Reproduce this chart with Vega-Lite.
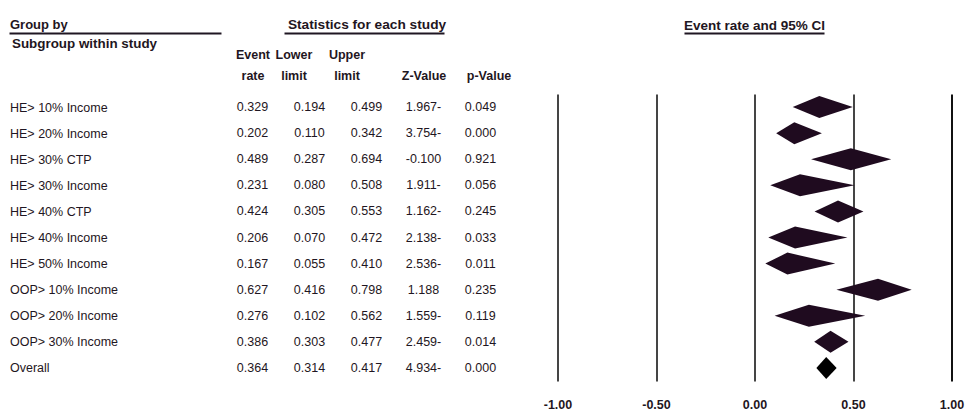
{
  "$schema": "https://vega.github.io/schema/vega-lite/v6.json",
  "padding": {"left": 8, "top": 17, "right": 3, "bottom": 0},
  "background": "white",
  "config": {
    "view": {"stroke": null},
    "font": "Liberation Sans",
    "axis": {"labelColor": "#1f1622", "titleColor": "#1f1622"},
    "title": {"color": "#1f1622"}
  },
  "datasets": {
    "studies": [
      {"study": "HE> 10% Income", "er": "0.329", "ll": "0.194", "ul": "0.499", "z": "1.967-", "p": "0.049"},
      {"study": "HE> 20% Income", "er": "0.202", "ll": "0.110", "ul": "0.342", "z": "3.754-", "p": "0.000"},
      {"study": "HE> 30% CTP", "er": "0.489", "ll": "0.287", "ul": "0.694", "z": "-0.100", "p": "0.921"},
      {"study": "HE> 30% Income", "er": "0.231", "ll": "0.080", "ul": "0.508", "z": "1.911-", "p": "0.056"},
      {"study": "HE> 40% CTP", "er": "0.424", "ll": "0.305", "ul": "0.553", "z": "1.162-", "p": "0.245"},
      {"study": "HE> 40% Income", "er": "0.206", "ll": "0.070", "ul": "0.472", "z": "2.138-", "p": "0.033"},
      {"study": "HE> 50% Income", "er": "0.167", "ll": "0.055", "ul": "0.410", "z": "2.536-", "p": "0.011"},
      {"study": "OOP> 10% Income", "er": "0.627", "ll": "0.416", "ul": "0.798", "z": "1.188", "p": "0.235"},
      {"study": "OOP> 20% Income", "er": "0.276", "ll": "0.102", "ul": "0.562", "z": "1.559-", "p": "0.119"},
      {"study": "OOP> 30% Income", "er": "0.386", "ll": "0.303", "ul": "0.477", "z": "2.459-", "p": "0.014"},
      {"study": "Overall", "er": "0.364", "ll": "0.314", "ul": "0.417", "z": "4.934-", "p": "0.000"}
    ]
  },
  "bounds": "flush",
  "spacing": 48.5,
  "hconcat": [
    {
      "width": 285,
      "height": 287,
      "layer": [
        {
          "data": {"name": "studies"},
          "transform": [{"fold": ["er", "ll", "ul", "z", "p"], "as": ["col", "val"]}],
          "mark": {"type": "text", "fontSize": 12.5, "color": "#1f1622", "baseline": "middle", "align": "center"},
          "encoding": {
            "x": {
              "field": "col", "type": "nominal", "sort": ["er", "ll", "ul", "z", "p"],
              "scale": {"type": "point", "padding": 0.5},
              "axis": {
                "orient": "top", "title": "Statistics for each study", "titleFontSize": 13.7, "titleFontWeight": "bold",
                "titleBaseline": "alphabetic", "titleY": -66,
                "labelExpr": "datum.value === 'er' ? ['Event', 'rate'] : datum.value === 'll' ? ['Lower', 'limit'] : datum.value === 'ul' ? ['Upper', 'limit'] : datum.value === 'z' ? ['', 'Z-Value'] : ['', 'p-Value']",
                "labelFontSize": 12.5, "labelFontWeight": "bold", "labelLineHeight": 21, "labelPadding": 33, "labelAngle": 0,
                "labelOffset": {"condition": [{"test": "datum.value === 'll'", "value": -16}, {"test": "datum.value === 'ul'", "value": -20}, {"test": "datum.value === 'p'", "value": 8}], "value": 0},
                "ticks": false, "domain": false, "grid": false
              }
            },
            "y": {
              "field": "study", "type": "nominal", "sort": null,
              "scale": {"paddingInner": 0, "paddingOuter": 0},
              "axis": {
                "orient": "left", "title": "Group by", "titleFontSize": 13, "titleFontWeight": "bold", "titleAngle": 0,
                "titleAlign": "left", "titleBaseline": "alphabetic", "titleX": -214.5, "titleY": -66,
                "labelAlign": "left", "labelPadding": 214.5, "labelFontSize": 12.5, "labelLimit": 0,
                "ticks": false, "domain": false, "grid": false
              }
            },
            "text": {"field": "val", "type": "nominal"}
          }
        },
        {
          "data": {"values": [{}]},
          "mark": {"type": "rule", "color": "#1f1622", "strokeWidth": 1.8},
          "encoding": {
            "x": {"datum": -0.7526, "type": "quantitative", "scale": {"domain": [0, 1], "nice": false, "zero": false}, "axis": null},
            "x2": {"datum": -0.0088},
            "y": {"datum": 1.2108, "type": "quantitative", "scale": {"domain": [0, 1], "nice": false, "zero": false}, "axis": null}
          }
        },
        {
          "data": {"values": [{}]},
          "mark": {"type": "rule", "color": "#1f1622", "strokeWidth": 1.8},
          "encoding": {
            "x": {"datum": 0.2123, "type": "quantitative", "scale": {"domain": [0, 1], "nice": false, "zero": false}, "axis": null},
            "x2": {"datum": 0.7737},
            "y": {"datum": 1.2108, "type": "quantitative", "scale": {"domain": [0, 1], "nice": false, "zero": false}, "axis": null}
          }
        }
      ],
      "resolve": {"scale": {"x": "independent", "y": "independent"}, "axis": {"x": "independent", "y": "independent"}}
    },
    {
      "width": 394,
      "height": 287,
      "title": {"text": "Event rate and 95% CI", "anchor": "middle", "frame": "group", "fontSize": 13.5, "fontWeight": "bold", "offset": 0},
      "layer": [
        {
          "data": {"name": "studies"},
          "transform": [
            {"window": [{"op": "row_number", "as": "idx"}]},
            {"fold": ["ll", "er", "ul"], "as": ["k", "v"]}
          ],
          "mark": {
            "type": "area",
            "yOffset": {"expr": "datum.k === 'er' ? -11 : 0"},
            "y2Offset": {"expr": "datum.k === 'er' ? 11 : 0"}
          },
          "encoding": {
            "x": {
              "field": "v", "type": "quantitative",
              "scale": {"domain": [-1, 1], "nice": false, "zero": false},
              "axis": {
                "orient": "bottom", "title": null, "values": [-1, -0.5, 0, 0.5, 1],
                "labelExpr": "datum.value < 0 ? '-' + format(-datum.value, '.2f') : format(datum.value, '.2f')",
                "labelFontSize": 12.5, "labelFontWeight": "bold", "labelPadding": 17, "labelFlush": false,
                "grid": true, "gridWidth": 2, "gridOpacity": 1,
                "gridColor": {"condition": {"test": "datum.value === 1", "value": "#111111"}, "value": "#454545"},
                "ticks": false, "domain": false
              }
            },
            "y": {
              "field": "idx", "type": "quantitative", "stack": null,
              "scale": {"domain": [0.5, 11.5], "reverse": true, "nice": false, "zero": false},
              "axis": {
                "orient": "left", "title": "Subgroup within study", "titleFontSize": 13.4, "titleFontWeight": "bold", "titleAngle": 0,
                "titleAlign": "left", "titleBaseline": "alphabetic", "titleX": -546, "titleY": -47,
                "labels": false, "ticks": false, "domain": false, "grid": false
              }
            },
            "y2": {"field": "idx"},
            "detail": {"field": "study", "type": "nominal"},
            "color": {"condition": {"test": "datum.study === 'Overall'", "value": "#000000"}, "value": "#1f0b1f"}
          }
        },
        {
          "data": {"values": [{}]},
          "mark": {"type": "rule", "color": "#1f1622", "strokeWidth": 1.8},
          "encoding": {
            "x": {"datum": 0.3223, "type": "quantitative", "scale": {"domain": [0, 1], "nice": false, "zero": false}, "axis": null},
            "x2": {"datum": 0.6777},
            "y": {"datum": 1.2108, "type": "quantitative", "scale": {"domain": [0, 1], "nice": false, "zero": false}, "axis": null}
          }
        }
      ],
      "resolve": {"scale": {"x": "independent", "y": "independent"}, "axis": {"x": "independent", "y": "independent"}}
    }
  ]
}
